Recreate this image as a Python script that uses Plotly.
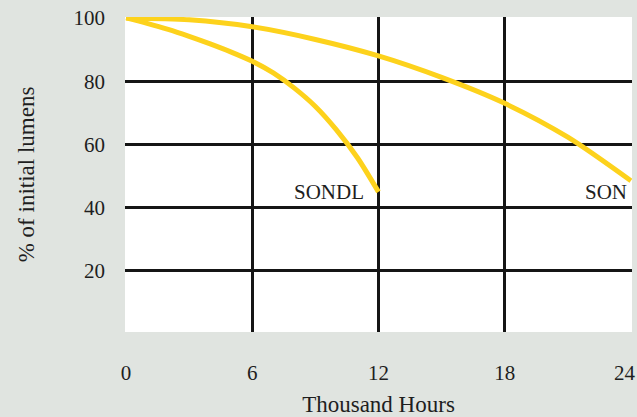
import plotly.graph_objects as go

son_hours = [0, 3, 6, 9, 12, 15, 18, 21, 24]
son_values = [100, 99.4, 97.2, 93.2, 88, 81.2, 73, 62.3, 48.5]

sondl_hours = [0, 1, 2, 3, 4, 5, 6, 7, 8, 9, 10, 11, 12]
sondl_values = [100, 98.3, 96.4, 94.2, 91.8, 89.2, 86.3, 82.6, 77.8, 72, 64.6, 55.8, 45]

x_ticks = [0, 6, 12, 18, 24]
x_labels = ["0", "6", "12", "18", "24"]
y_ticks = [20, 40, 60, 80, 100]

YELLOW = "#fdd21c"
FONT = "Liberation Serif"
TXT = "#1e1e1e"

fig = go.Figure()
fig.add_trace(go.Scatter(x=son_hours, y=son_values, mode="lines",
                         line=dict(color=YELLOW, width=5, shape="spline", smoothing=0.8),
                         cliponaxis=False, showlegend=False, hoverinfo="skip"))
fig.add_trace(go.Scatter(x=sondl_hours, y=sondl_values, mode="lines",
                         line=dict(color=YELLOW, width=5, shape="spline", smoothing=0.8),
                         cliponaxis=False, showlegend=False, hoverinfo="skip"))

fig.add_annotation(x=sondl_hours[-1], y=sondl_values[-1], text="SONDL", showarrow=False,
                   xanchor="right", yanchor="middle", xshift=-13, yshift=0,
                   font=dict(family=FONT, size=21, color=TXT))
fig.add_annotation(x=son_hours[-1], y=son_values[-1], text="SON", showarrow=False,
                   xanchor="right", yanchor="middle", xshift=-2, yshift=-11,
                   font=dict(family=FONT, size=21, color=TXT))
# last x tick label, nudged left so it stays inside the page (as in the reference)
fig.add_annotation(x=x_ticks[-1], y=0, yref="paper", text=x_labels[-1], showarrow=False,
                   xanchor="center", yanchor="middle", xshift=-6, yshift=-41,
                   font=dict(family=FONT, size=21, color=TXT))

fig.update_layout(
    width=637, height=417,
    margin=dict(l=125, r=5, t=17, b=85, autoexpand=False),
    paper_bgcolor="#e0e4e0",
    plot_bgcolor="#ffffff",
    font=dict(family=FONT, size=21, color=TXT),
    xaxis=dict(range=[-0.05, 24.05], tickmode="array", tickvals=x_ticks[:-1],
               ticktext=x_labels[:-1], showgrid=False, zeroline=False,
               showline=False, ticks="", ticklabelstandoff=26, automargin=False,
               title=dict(text="Thousand Hours", standoff=12, font=dict(size=23)),
               minor=dict(tickmode="array", tickvals=[6, 12, 18], showgrid=True,
                          gridcolor="#151515", gridwidth=2.5, ticks="")),
    yaxis=dict(range=[0.7, 100.3], tickmode="array", tickvals=y_ticks,
               ticktext=[str(v) for v in y_ticks], showgrid=False, zeroline=False,
               showline=False, ticks="", ticklabelstandoff=19, automargin=False,
               title=dict(text="% of initial lumens", standoff=32, font=dict(size=23)),
               minor=dict(tickmode="array", tickvals=[20, 40, 60, 80], showgrid=True,
                          gridcolor="#151515", gridwidth=2.5, ticks="")),
)

fig.write_html("out.html", config={"displayModeBar": False},
               post_script="document.body.style.margin='0';document.body.style.overflow='hidden';")
